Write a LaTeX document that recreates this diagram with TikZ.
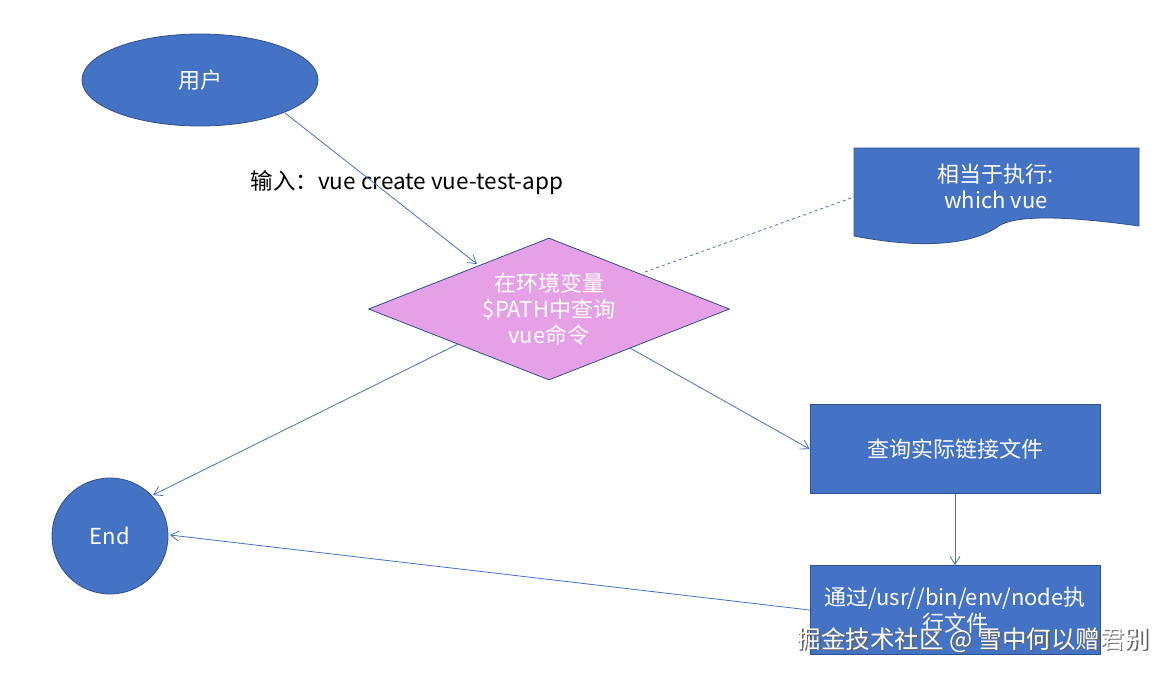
\documentclass[tikz,border=0pt]{standalone}
\usepackage{fontspec}
\setmainfont{Noto Sans CJK SC}
\usetikzlibrary{shapes.geometric,arrows.meta}
\definecolor{bl}{HTML}{4472C4}
\definecolor{bd}{HTML}{2F528F}
\definecolor{vi}{HTML}{E6A0E6}
\tikzset{
  shp/.style={fill=bl,draw=bd,line width=0.8pt,text=white,font=\fontsize{22}{26}\selectfont,align=center,inner sep=0pt},
  conn/.style={draw=bl,line width=0.8pt,-{Straight Barb[length=8pt,width=10pt]}},
}
\begin{document}
\begin{tikzpicture}[x=1pt,y=-1pt]
\useasboundingbox (0,0) rectangle (1174,675);
\node[shp,ellipse,minimum width=236pt,minimum height=92pt] (user) at (200,80) {用户};
\node[font=\fontsize{22.5}{26}\selectfont] (inp) at (407,183) {输入：vue create vue-test-app};
\node[shp,diamond,fill=vi,minimum width=361pt,minimum height=142pt,aspect=2.54] (dia) at (549,309) {在环境变量\\\$PATH中查询\\vue命令};
\node[shp,minimum width=290pt,minimum height=89pt] (q) at (955,449) {查询实际链接文件};
\node[shp,minimum width=290pt,minimum height=89pt,text width=280pt] (run) at (955,610) {通过/usr//bin/env/node执\\行文件};
\node[shp,circle,minimum size=116pt] (end) at (110,536) {End};
\fill[bl,draw=bd,line width=0.8pt] (854,148) -- (1139,148) -- (1139,226)
  .. controls (1060,215) and (1010,215) .. (996,228)
  .. controls (960,250) and (900,245) .. (854,236) -- cycle;
\node[text=white,font=\fontsize{22}{26}\selectfont,align=center] (doc) at (996,186) {相当于执行:\\which vue};
\coordinate (docl) at (854,197);
\coordinate (a1) at (285,113); \coordinate (a2) at (477,264);
\draw[conn] (a1) -- (a2);
\draw[bl,line width=0.8pt,dashed] (645,272) -- (docl);
\draw[conn] (458,344) -- (153,495);
\draw[conn] (630,348) -- (q.west);
\draw[conn] (q.south) -- (run.north);
\draw[conn] (run.west) -- (170,535);
\node[text=black!60,font=\fontsize{24.5}{28}\selectfont] (wms) at (974.5,641.5) {掘金技术社区 @ 雪中何以赠君别};
\node[text=white,font=\fontsize{24.5}{28}\selectfont] (wm) at (973,640) {掘金技术社区 @ 雪中何以赠君别};
\end{tikzpicture}
\end{document}
